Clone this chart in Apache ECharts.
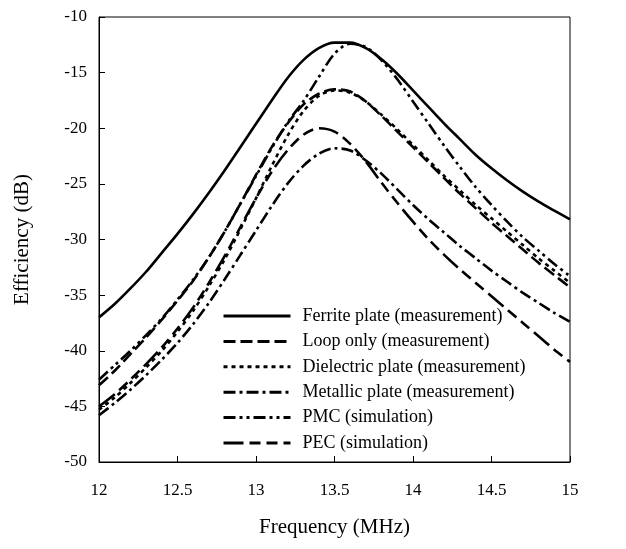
<!DOCTYPE html>
<html>
<head>
<meta charset="utf-8">
<script src="https://cdn.jsdelivr.net/npm/echarts@6/dist/echarts.min.js"></script>
<style>html,body{margin:0;padding:0;background:#fff}#c{width:626px;height:549px}</style>
</head>
<body>
<div id="c"></div>
<script>
const freq = [12.0,12.1,12.2,12.3,12.4,12.5,12.6,12.7,12.8,12.9,13.0,13.1,13.2,13.3,13.4,13.5,13.6,13.7,13.8,13.9,14.0,14.1,14.2,14.3,14.4,14.5,14.6,14.7,14.8,14.9,15.0];
const ferrite = [-37.0,-35.8,-34.4,-32.9,-31.2,-29.5,-27.7,-25.8,-23.8,-21.7,-19.6,-17.5,-15.5,-13.9,-12.8,-12.3,-12.3,-12.8,-13.8,-15.1,-16.6,-18.1,-19.6,-21.0,-22.4,-23.6,-24.7,-25.7,-26.6,-27.4,-28.2];
const loopOnly = [-43.1,-41.8,-40.3,-38.8,-37.2,-35.5,-33.7,-31.6,-29.3,-26.8,-24.2,-21.7,-19.6,-17.9,-16.9,-16.5,-16.7,-17.6,-18.9,-20.3,-21.7,-23.1,-24.5,-25.9,-27.2,-28.5,-29.7,-30.9,-32.1,-33.2,-34.3];
const dielectric = [-45.3,-44.2,-42.9,-41.5,-40.0,-38.3,-36.4,-34.2,-31.8,-29.1,-26.3,-23.4,-20.7,-18.5,-17.1,-16.6,-16.8,-17.6,-18.8,-20.1,-21.5,-22.9,-24.3,-25.6,-26.9,-28.1,-29.3,-30.5,-31.7,-32.8,-33.9];
const metallic = [-45.8,-44.7,-43.5,-42.2,-40.8,-39.3,-37.6,-35.7,-33.6,-31.4,-29.2,-27.0,-25.0,-23.4,-22.3,-21.8,-22.0,-22.9,-24.1,-25.5,-26.9,-28.2,-29.4,-30.6,-31.7,-32.8,-33.8,-34.8,-35.7,-36.6,-37.4];
const pmc = [-42.6,-41.3,-40.0,-38.6,-37.1,-35.4,-33.6,-31.6,-29.3,-26.8,-24.3,-21.8,-19.5,-17.6,-15.4,-13.3,-12.4,-12.7,-13.9,-15.6,-17.6,-19.6,-21.6,-23.5,-25.3,-26.9,-28.4,-29.8,-31.0,-32.2,-33.3];
const pec = [-45.0,-43.9,-42.6,-41.2,-39.7,-38.0,-36.1,-33.9,-31.5,-28.9,-26.3,-23.9,-22.0,-20.6,-20.0,-20.3,-21.4,-23.0,-24.9,-26.7,-28.4,-30.0,-31.4,-32.7,-33.9,-35.1,-36.3,-37.5,-38.7,-39.9,-41.0];
const seriesNames = ['Ferrite plate (measurement)','Loop only (measurement)','Dielectric plate (measurement)','Metallic plate (measurement)','PMC (simulation)','PEC (simulation)'];

const values = [ferrite, loopOnly, dielectric, metallic, pmc, pec];
const dashes = ['solid', [12,5], [4,4], [12,4,3,4], [12,4,3,4,3,4], [20,6,11,6,11,6]];
const FONT = '"Liberation Serif","DejaVu Serif",serif';

const chart = echarts.init(document.getElementById('c'), null, {renderer:'canvas'});
chart.setOption({
  animation:false,
  backgroundColor:'#fff',
  grid:{left:99, right:56, top:17, bottom:87, show:true, borderColor:'#000', borderWidth:1},
  legend:{
    orient:'vertical', left:217, top:302, itemWidth:67, itemHeight:14, itemGap:7.4,
    data:seriesNames,
    itemStyle:{opacity:0},
    lineStyle:{width:3},
    textStyle:{fontFamily:FONT, fontSize:18, lineHeight:18, color:'#000', padding:[0,0,0,7]}
  },
  xAxis:{
    type:'value', min:12, max:15, interval:0.5,
    name:'Frequency (MHz)', nameLocation:'middle', nameGap:55,
    nameTextStyle:{fontFamily:FONT, fontSize:21, color:'#000'},
    axisLine:{lineStyle:{color:'#000', width:1}},
    axisTick:{inside:true, length:6, lineStyle:{color:'#000'}},
    axisLabel:{fontFamily:FONT, fontSize:17, color:'#000', margin:20},
    splitLine:{show:false}
  },
  yAxis:{
    type:'value', min:-50, max:-10, interval:5,
    name:'Efficiency (dB)', nameLocation:'middle', nameGap:66, nameRotate:90,
    nameTextStyle:{fontFamily:FONT, fontSize:21, color:'#000'},
    axisLine:{show:true, lineStyle:{color:'#000', width:1}},
    axisTick:{show:true, inside:true, length:6, lineStyle:{color:'#000'}},
    axisLabel:{fontFamily:FONT, fontSize:17, color:'#000', margin:12},
    splitLine:{show:false}
  },
  series: seriesNames.map((n,i)=>({
    name:n, type:'line', symbol:'none', smooth:0.3,
    data: freq.map((f,j)=>[f, values[i][j]]),
    lineStyle:{color:'#000', width:2.6, type:dashes[i]},
    itemStyle:{color:'#000'}
  }))
});
</script>
</body>
</html>
